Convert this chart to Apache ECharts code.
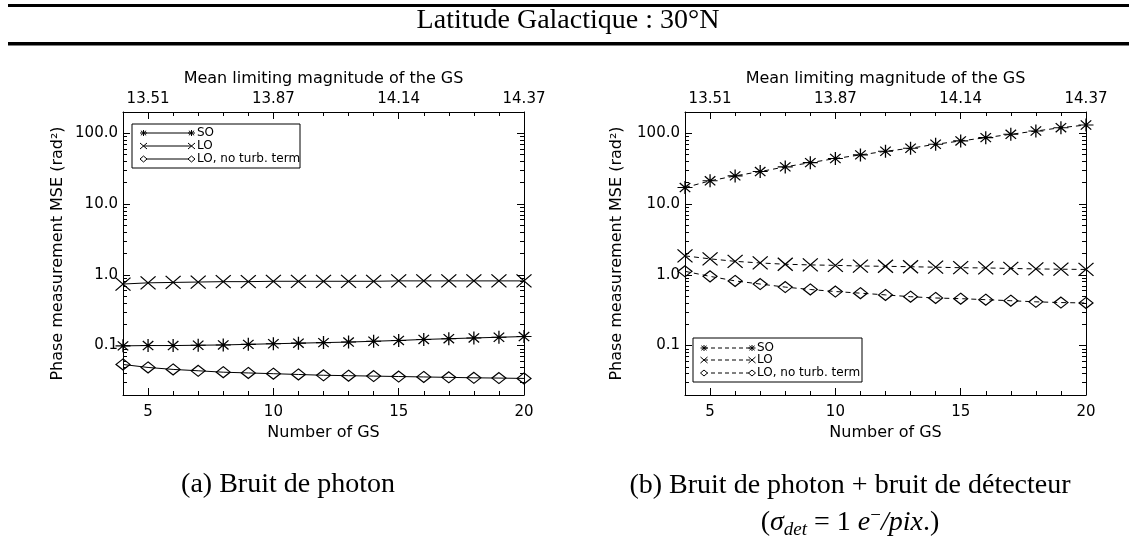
<!DOCTYPE html>
<html>
<head>
<meta charset="utf-8">
<script src="https://cdn.jsdelivr.net/npm/echarts@6/dist/echarts.min.js"></script>
<style>html,body{margin:0;padding:0;background:#fff}#c{width:1129px;height:540px}</style>
</head>
<body>
<div id="c"></div>
<script>
// ---- data ----
const nGS = [4,5,6,7,8,9,10,11,12,13,14,15,16,17,18,19,20];
const soPhoton       = [0.099,0.100,0.100,0.101,0.102,0.104,0.106,0.108,0.110,0.112,0.115,0.118,0.122,0.125,0.128,0.131,0.134];
const loPhoton       = [0.74,0.77,0.78,0.79,0.80,0.80,0.81,0.81,0.81,0.81,0.81,0.82,0.82,0.82,0.82,0.82,0.82];
const loNoTurbPhoton = [0.054,0.049,0.046,0.044,0.042,0.041,0.040,0.039,0.038,0.0375,0.037,0.0365,0.036,0.0355,0.035,0.0347,0.0343];
const soDet          = [17.1,21.3,25.0,28.8,33.5,38.5,44.0,49.5,55.7,61.5,70.0,78.0,86.8,96.8,107.7,120.0,131.0];
const loDet          = [1.85,1.68,1.55,1.47,1.41,1.38,1.36,1.33,1.32,1.30,1.28,1.26,1.25,1.23,1.21,1.20,1.19];
const loNoTurbDet    = [1.12,0.95,0.82,0.74,0.67,0.62,0.58,0.55,0.52,0.49,0.47,0.46,0.445,0.43,0.415,0.405,0.40];
const seriesNames    = ['SO','LO','LO, no turb. term'];
const bottomTicks    = [5,10,15,20];
const topTickValues  = [5,10,15,20];
const topTickLabels  = ['13.51','13.87','14.14','14.37'];
const yMajorValues   = [0.1,1,10,100];
const yMajorLabels   = ['0.1','1.0','10.0','100.0'];
const yMinorValues   = [0.03,0.04,0.05,0.06,0.07,0.08,0.09,0.2,0.3,0.4,0.5,0.6,0.7,0.8,0.9,2,3,4,5,6,7,8,9,20,30,40,50,60,70,80,90];
const mainTitle      = 'Latitude Galactique : 30°N';
const captionA       = '(a) Bruit de photon';
const captionB       = '(b) Bruit de photon + bruit de détecteur';

// ---- styles ----
const SANS = 'DejaVu Sans';
const SERIF = 'Liberation Serif';
const INK = '#000';
const SYM_STAR = 'path://M0 5L10 5M5 0L5 10M1.5 1.5L8.5 8.5M8.5 1.5L1.5 8.5';
const SYM_X = 'path://M0 0L10 10M10 0L0 10';
const SYM_DIAMOND = 'path://M5 0L10 5L5 10L0 5Z';
const symbols = [SYM_STAR, SYM_X, SYM_DIAMOND];
const symSizes = [[15,13],[15,13],[14,11]];

const grids = [
  {left:123, top:112, width:401, height:283},
  {left:685, top:112, width:401, height:283}
];

const tickLabelStyle = {fontFamily:SANS, fontSize:15, color:INK};
const nameStyle = {fontFamily:SANS, fontSize:16, color:INK};

function xAxesFor(g){
  const base = {type:'value', gridIndex:g, min:4, max:20, splitLine:{show:false}};
  return [
    Object.assign({}, base, {
      position:'bottom',
      axisLine:{show:true, onZero:false, lineStyle:{color:INK, width:1}},
      axisTick:{show:true, inside:true, length:7, customValues:bottomTicks, lineStyle:{color:INK}},
      axisLabel:{show:true, customValues:bottomTicks, margin:10, ...tickLabelStyle},
      name:'Number of GS', nameLocation:'middle', nameGap:30, nameTextStyle:nameStyle
    }),
    Object.assign({}, base, {
      position:'bottom', interval:1,
      axisLine:{show:false, onZero:false},
      axisTick:{show:true, inside:true, length:4, lineStyle:{color:INK}},
      axisLabel:{show:false}
    }),
    Object.assign({}, base, {
      position:'top',
      axisLine:{show:true, onZero:false, lineStyle:{color:INK, width:1}},
      axisTick:{show:true, inside:true, length:7, customValues:topTickValues, lineStyle:{color:INK}},
      axisLabel:{show:true, customValues:topTickValues, margin:5, ...tickLabelStyle,
        formatter:function(v){ const i = topTickValues.indexOf(v); return i>=0 ? topTickLabels[i] : ''; }},
      name:'Mean limiting magnitude of the GS', nameLocation:'middle', nameGap:20, nameTextStyle:nameStyle
    }),
    Object.assign({}, base, {
      position:'top', interval:1,
      axisLine:{show:false, onZero:false},
      axisTick:{show:true, inside:true, length:4, lineStyle:{color:INK}},
      axisLabel:{show:false}
    })
  ];
}

function yAxesFor(g, nameGap){
  const base = {type:'log', logBase:10, gridIndex:g, min:0.02, max:200, splitLine:{show:false}, minorTick:{show:false}, minorSplitLine:{show:false}};
  return [
    Object.assign({}, base, {
      position:'left',
      axisLine:{show:true, onZero:false, lineStyle:{color:INK, width:1}},
      axisTick:{show:true, inside:true, length:7, customValues:yMajorValues, lineStyle:{color:INK}},
      axisLabel:{show:true, customValues:yMajorValues, margin:5, ...tickLabelStyle,
        formatter:function(v){ let best=0, d=Infinity; yMajorValues.forEach((m,i)=>{const dd=Math.abs(Math.log10(m)-Math.log10(v)); if(dd<d){d=dd;best=i;}}); return yMajorLabels[best]; }},
      name:'Phase measurement MSE (rad²)', nameLocation:'middle', nameGap:nameGap, nameRotate:90, nameTextStyle:nameStyle
    }),
    Object.assign({}, base, {
      position:'left',
      axisLine:{show:false, onZero:false},
      axisTick:{show:true, inside:true, length:4, customValues:yMinorValues, lineStyle:{color:INK}},
      axisLabel:{show:false}
    }),
    Object.assign({}, base, {
      position:'right',
      axisLine:{show:true, onZero:false, lineStyle:{color:INK, width:1}},
      axisTick:{show:true, inside:true, length:7, customValues:yMajorValues, lineStyle:{color:INK}},
      axisLabel:{show:false}
    }),
    Object.assign({}, base, {
      position:'right',
      axisLine:{show:false, onZero:false},
      axisTick:{show:true, inside:true, length:4, customValues:yMinorValues, lineStyle:{color:INK}},
      axisLabel:{show:false}
    })
  ];
}

function mkSeries(name, idx, values, axisIdx, dashed){
  return {
    type:'line', name:name,
    xAxisIndex:axisIdx, yAxisIndex:axisIdx,
    data: nGS.map((x,i)=>[x, values[i]]),
    symbol: symbols[idx], symbolSize: symSizes[idx], showAllSymbol:true,
    itemStyle:{color:'rgba(0,0,0,0)', borderColor:INK, borderWidth:1.2},
    lineStyle:{color:INK, width:1, type: dashed ? [5,4] : 'solid'},
    emphasis:{disabled:true}, animation:false, clip:true, z:3
  };
}

// legend marker drawn with graphic primitives
function markerEls(kind, cx, cy, w, h){
  const s = {stroke:INK, lineWidth:1, fill:null};
  const L = (x1,y1,x2,y2)=>({type:'line', shape:{x1:x1,y1:y1,x2:x2,y2:y2}, style:s, z:12});
  const hw = w/2, hh = h/2;
  if (kind === 0) return [L(cx-hw,cy,cx+hw,cy), L(cx,cy-hh,cx,cy+hh), L(cx-hw*0.75,cy-hh*0.75,cx+hw*0.75,cy+hh*0.75), L(cx+hw*0.75,cy-hh*0.75,cx-hw*0.75,cy+hh*0.75)];
  if (kind === 1) return [L(cx-hw,cy-hh,cx+hw,cy+hh), L(cx+hw,cy-hh,cx-hw,cy+hh)];
  return [{type:'polygon', shape:{points:[[cx,cy-hh],[cx+hw,cy],[cx,cy+hh],[cx-hw,cy]]}, style:{stroke:INK, lineWidth:1, fill:'#fff'}, z:12}];
}

function legendGraphic(box, rows, lineX0, lineX1, textX, dashed){
  const els = [{type:'rect', shape:{x:box.x, y:box.y, width:box.w, height:box.h}, style:{fill:'#fff', stroke:INK, lineWidth:1}, z:10}];
  seriesNames.forEach((nm, i)=>{
    const y = rows[i];
    els.push({type:'line', shape:{x1:lineX0, y1:y, x2:lineX1, y2:y}, style:{stroke:INK, lineWidth:1, lineDash: dashed ? [4,3] : null}, z:11});
    [lineX0, lineX1].forEach(cx=>{ markerEls(i, cx, y, 7, 6).forEach(e=>els.push(e)); });
    els.push({type:'text', x:textX, y:y, style:{text:nm, font:'12px "'+SANS+'"', fill:INK, verticalAlign:'middle', align:'left'}, z:12});
  });
  return els;
}

const graphics = [
  {type:'rect', shape:{x:8, y:4, width:1121, height:3}, style:{fill:INK}},
  {type:'rect', shape:{x:8, y:42, width:1121, height:3.5}, style:{fill:INK}},
  {type:'text', x:568, y:21, style:{text:mainTitle, font:'28px "'+SERIF+'"', fill:INK, align:'center', verticalAlign:'middle'}},
  {type:'text', x:288, y:485, style:{text:captionA, font:'28px "'+SERIF+'"', fill:INK, align:'center', verticalAlign:'middle'}},
  {type:'text', x:850, y:486, style:{text:captionB, font:'28px "'+SERIF+'"', fill:INK, align:'center', verticalAlign:'middle'}},
  {type:'text', x:850, y:523, style:{
    text:'{n|(}{i|σ}{sub|det}{n| = 1 }{i|e}{sup|−}{i|/pix}{n|.)}',
    align:'center', verticalAlign:'middle',
    rich:{
      n:{fontFamily:SERIF, fontSize:28, fill:INK},
      i:{fontFamily:SERIF, fontSize:28, fontStyle:'italic', fill:INK},
      sub:{fontFamily:SERIF, fontSize:19, fontStyle:'italic', fill:INK, padding:[14,0,0,0]},
      sup:{fontFamily:SERIF, fontSize:19, fill:INK, padding:[0,0,14,0]}
    }
  }}
].concat(
  legendGraphic({x:132, y:124, w:168, h:44}, [133,146,159], 143.5, 191.5, 197, false),
  legendGraphic({x:693, y:338, w:169, h:44}, [348,360,373], 704, 752, 757, true)
);

const option = {
  animation:false,
  backgroundColor:'#fff',
  grid: grids.map(g=>Object.assign({containLabel:false, show:false}, g)),
  xAxis: xAxesFor(0).concat(xAxesFor(1)),
  yAxis: yAxesFor(0, 57).concat(yAxesFor(1, 60)),
  series: [
    mkSeries(seriesNames[0], 0, soPhoton, 0, false),
    mkSeries(seriesNames[1], 1, loPhoton, 0, false),
    mkSeries(seriesNames[2], 2, loNoTurbPhoton, 0, false),
    mkSeries(seriesNames[0], 0, soDet, 4, true),
    mkSeries(seriesNames[1], 1, loDet, 4, true),
    mkSeries(seriesNames[2], 2, loNoTurbDet, 4, true)
  ],
  graphic: graphics
};

const chart = echarts.init(document.getElementById('c'), null, {renderer:'canvas'});
chart.setOption(option);
</script>
</body>
</html>
